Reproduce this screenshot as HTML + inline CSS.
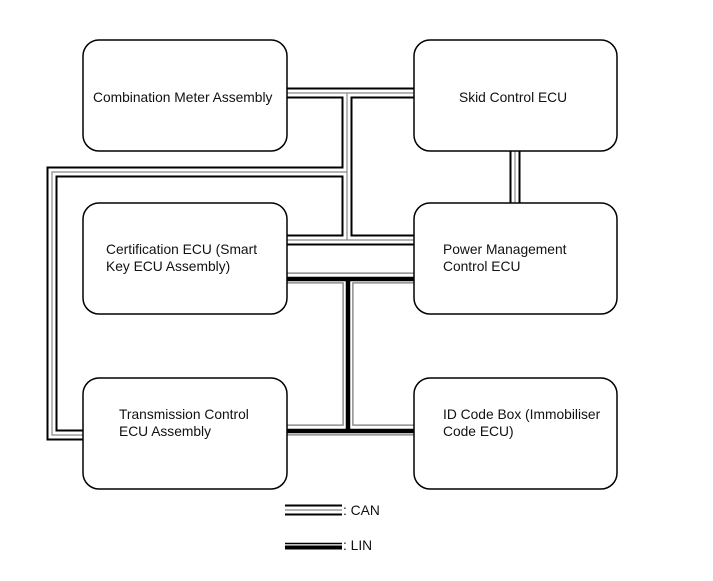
<!DOCTYPE html>
<html><head><meta charset="utf-8"><style>
html,body{margin:0;padding:0;background:#fff;}
body{width:713px;height:581px;overflow:hidden;position:relative;font-family:"Liberation Sans",Arial,sans-serif;}
</style></head><body>
<svg width="713" height="581" xmlns="http://www.w3.org/2000/svg" style="position:absolute;left:0;top:0">
<g fill="none">
<g stroke="#000" stroke-width="11">
<path d="M287 93 H414"/><path d="M347 93 V240"/><path d="M347 172 H52 V435 H83"/><path d="M287 240 H414"/><path d="M515 151 V203"/><path d="M285 510 H342"/>
</g>
<g stroke="#fff" stroke-width="7">
<path d="M287 93 H414"/><path d="M347 93 V240"/><path d="M347 172 H52 V435 H83"/><path d="M287 240 H414"/><path d="M515 151 V203"/><path d="M285 510 H342"/>
</g>
<g stroke="#888" stroke-width="1.2">
<path d="M287 93 H414"/><path d="M347 93 V240"/><path d="M347 172 H52 V435 H83"/><path d="M287 240 H414"/><path d="M515 151 V203"/><path d="M285 510 H342"/>
</g>
<g stroke="#777" stroke-width="11">
<path d="M287 278 H414"/><path d="M348 278 V430"/><path d="M287 430 H414"/>
</g>
<g stroke="#fff" stroke-width="8.5">
<path d="M287 278 H414"/><path d="M348 278 V430"/><path d="M287 430 H414"/>
</g>
<g stroke="#000" stroke-width="4.5">
<path d="M287 279 H414"/><path d="M348 279 V431"/><path d="M287 431 H414"/>
</g>
<path d="M285 543.5 H342" stroke="#000" stroke-width="1.5"/>
<path d="M285 547.5 H342" stroke="#000" stroke-width="4"/>
</g>
<g fill="#fff" stroke="#000" stroke-width="1.5">
<rect x="83" y="40" width="204" height="111" rx="16"/>
<rect x="414" y="40" width="203" height="111" rx="16"/>
<rect x="83" y="203" width="204" height="111" rx="16"/>
<rect x="414" y="203" width="203" height="111" rx="16"/>
<rect x="83" y="378" width="204" height="111" rx="16"/>
<rect x="414" y="378" width="203" height="111" rx="16"/>
</g>
<g font-family="Liberation Sans, Arial, sans-serif" font-size="13.8" fill="#111">
<text x="93" y="102">Combination Meter Assembly</text>
<text x="459" y="102">Skid Control ECU</text>
<text x="106" y="254">Certification ECU (Smart</text>
<text x="106" y="271">Key ECU Assembly)</text>
<text x="443" y="254">Power Management</text>
<text x="443" y="271">Control ECU</text>
<text x="119" y="419">Transmission Control</text>
<text x="119" y="436">ECU Assembly</text>
<text x="443" y="419">ID Code Box (Immobiliser</text>
<text x="443" y="436">Code ECU)</text>
<text x="343" y="515">: CAN</text>
<text x="343" y="550">: LIN</text>
</g>
</svg>
</body></html>
